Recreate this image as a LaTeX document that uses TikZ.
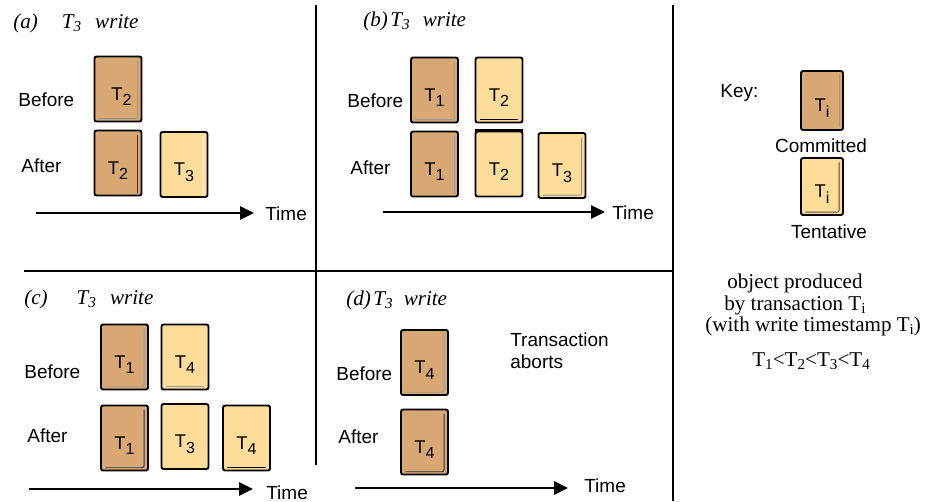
\documentclass[tikz,border=0pt]{standalone}
\usepackage{fontspec}
\setmainfont{Liberation Sans}
\newfontfamily\tms{Liberation Serif}
\usetikzlibrary{arrows.meta}
\definecolor{commit}{RGB}{215,168,116}
\definecolor{tent}{RGB}{254,220,153}
\newcommand\tsub[1]{\raisebox{-0.6ex}{\scalebox{0.87}{#1}}}
\newcommand\ssub[1]{\raisebox{-0.35ex}{\scalebox{0.72}{#1}}}

\begin{document}
\begin{tikzpicture}[x=0.02cm, y=-0.02cm,
    box/.style={draw, line width=1.1pt, rounded corners=1.2pt, minimum width=0.94cm,
        minimum height=1.3cm, inner sep=0pt, text height=0.6cm, text depth=0.16cm,
        font=\fontsize{10.5}{12}\selectfont},
    com/.style={box, fill=commit},
    ten/.style={box, fill=tent},
    markR/.style={path picture={\draw[#1, line width=0.5pt]
        ([shift={(-2.2pt,-2.5pt)}]path picture bounding box.north east) --
        ([shift={(-2.2pt,1.5pt)}]path picture bounding box.south east);}},
    markR/.default={black!40},
    markB/.style={path picture={\draw[#1, line width=0.5pt]
        ([shift={(2.5pt,1.6pt)}]path picture bounding box.south west) --
        ([shift={(-2.5pt,1.6pt)}]path picture bounding box.south east);}},
    markB/.default={black!40},
    markRB/.style={path picture={\draw[#1, line width=0.5pt]
        ([shift={(-2.2pt,-2.5pt)}]path picture bounding box.north east) --
        ([shift={(-2.2pt,1.6pt)}]path picture bounding box.south east) --
        ([shift={(2.5pt,1.6pt)}]path picture bounding box.south west);}},
    markRB/.default={black!40},
    lbl/.style={anchor=base west, inner sep=0pt, font=\fontsize{10.8}{13}\selectfont},
    ttl/.style={anchor=base west, inner sep=0pt, font=\tms\itshape\fontsize{12}{14}\selectfont},
    rtx/.style={anchor=base west, inner sep=0pt, font=\tms\fontsize{12}{14}\selectfont},
    tarrow/.style={line width=1.5pt, -{Triangle[length=0.28cm, width=0.26cm]}}]
    \useasboundingbox (0,0) rectangle (930,501);

    % panel frame
    \draw[line width=0.6pt] (316,5) -- (316,465);
    \draw[line width=0.6pt] (673,5) -- (673,501);
    \draw[line width=0.6pt] (24,271) -- (673,271);
    \draw[line width=1.2pt] (457,271) -- (485,271);

    % (a)
    \node[ttl](t_a) at (13,28) {(a)\hspace{0.48cm}T\ssub{3}\hspace{0.28cm}write};
    \node[lbl](Bef_a) at (18,106) {Before};
    \node[lbl](Aft_a) at (21,172) {After};
    \node[com, markRB](Ba_1) at (118,89) {\hspace{4pt}T\tsub{2}};
    \node[com, markR=black!80](Aa_1) at (118,163) {T\tsub{2}};
    \node[ten, markR=white](Aa_2) at (184,164.5) {T\tsub{3}};
    \node[lbl](Time_a) at (265,220) {Time};
    \coordinate (S_a) at (36,213);
    \draw[tarrow] (S_a) -- ([xshift=-0.22cm]Time_a.west |- S_a);

    % (b)
    \node[ttl](t_b) at (363,26) {(b)\hspace{0.05cm}T\ssub{3}\hspace{0.26cm}write};
    \node[lbl](Bef_b) at (347,107) {Before};
    \node[lbl](Aft_b) at (350,174) {After};
    \node[com, markRB](Bb_1) at (434.5,90) {T\tsub{1}};
    \node[ten, markB=black](Bb_2) at (499,90) {T\tsub{2}};
    \node[com, markR](Ab_1) at (434.5,164) {T\tsub{1}};
    \node[ten](Ab_2) at (499,164) {T\tsub{2}};
    \draw[line width=1.6pt] (Ab_2.north west) -- (Ab_2.north east);
    \node[ten, markRB](Ab_3) at (562,165.5) {T\tsub{3}};
    \node[lbl](Time_b) at (612,219) {Time};
    \coordinate (S_b) at (383,212);
    \draw[tarrow] (S_b) -- ([xshift=-0.14cm]Time_b.west |- S_b);

    % key
    \node[lbl](Key) at (720,97) {Key:};
    \node[com, markR, minimum width=0.84cm, minimum height=1.18cm](K_1) at (822,100.5) {T\tsub{i}};
    \node[lbl, anchor=base](Com) at (821,152) {Committed};
    \node[ten, markRB=black!70, minimum width=0.84cm, minimum height=1.14cm](K_2) at (822,186.5) {T\tsub{i}};
    \node[lbl, anchor=base](Ten) at (829,238) {Tentative};

    \node[rtx](R_1) at (727,288) {object produced};
    \node[rtx](R_2) at (724,310) {by transaction T\ssub{i}};
    \node[rtx](R_3) at (705,331) {(with write timestamp T\ssub{i})};
    \node[rtx](R_4) at (752,366) {T\ssub{1}<T\ssub{2}<T\ssub{3}<T\ssub{4}};

    % (c)
    \node[ttl](t_c) at (24,304) {(c)\hspace{0.58cm}T\ssub{3}\hspace{0.28cm}write};
    \node[lbl](Bef_c) at (24,378) {Before};
    \node[lbl](Aft_c) at (27,442) {After};
    \node[com, markRB](Bc_1) at (124.5,357) {T\tsub{1}};
    \node[ten, markB](Bc_2) at (185,357) {T\tsub{4}};
    \node[com, markRB=black!80](Ac_1) at (124.5,438) {T\tsub{1}};
    \node[ten](Ac_2) at (185,436.5) {T\tsub{3}};
    \node[ten, markB=black](Ac_3) at (246.5,438) {T\tsub{4}};
    \node[lbl](Time_c) at (266,499) {Time};
    \coordinate (S_c) at (29,489);
    \draw[tarrow] (S_c) -- (253,489);

    % (d)
    \node[ttl](t_d) at (346,305) {(d)\hspace{0.05cm}T\ssub{3}\hspace{0.22cm}write};
    \node[lbl](Bef_d) at (336,380) {Before};
    \node[lbl](Aft_d) at (338,443) {After};
    \node[com, markRB](Bd_1) at (424.5,362.5) {T\tsub{4}};
    \node[com, markRB=black!80](Ad_1) at (424.5,442) {T\tsub{4}};
    \node[lbl](Abort) at (510,346) {Transaction};
    \node[lbl](Abort2) at (510,368) {aborts};
    \node[lbl](Time_d) at (584,492) {Time};
    \coordinate (S_d) at (355,488);
    \draw[tarrow] (S_d) -- ([xshift=-0.32cm]Time_d.west |- S_d);
\end{tikzpicture}
\end{document}
